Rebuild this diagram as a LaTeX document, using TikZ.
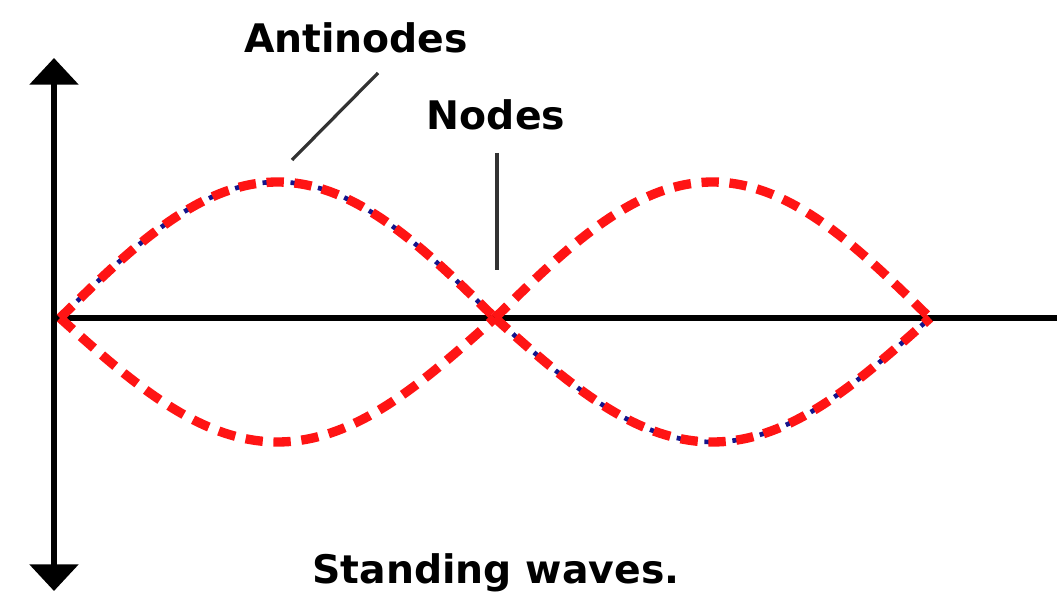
\documentclass[tikz,border=0pt]{standalone}
\usepackage{fontspec}
\setmainfont{DejaVu Sans}
\usetikzlibrary{arrows.meta}
\begin{document}
\begin{tikzpicture}[x=0.75pt,y=-0.75pt,
  axisline/.style={draw=black,line width=4.5pt},
  envelope/.style={draw={rgb,255:red,255;green,20;blue,20},line width=7pt,dash pattern=on 13pt off 8pt},
  underwave/.style={draw={rgb,255:red,20;green,20;blue,140},line width=3.5pt,dash pattern=on 6pt off 15pt,dash phase=3pt},
  pointer/.style={draw={rgb,255:red,50;green,50;blue,50},line width=2.4pt},
  label/.style={font=\bfseries\fontsize{29.5}{34}\selectfont,inner sep=0pt,anchor=base}]
\useasboundingbox (0,0) rectangle (1057,595);
% axes
\coordinate (vtop) at (54,58);
\coordinate (vbot) at (54,591);
\coordinate (hleft) at (54,318);
\coordinate (hright) at (1057,318);
\draw[axisline,{Triangle[length=20pt,width=36pt]}-{Triangle[length=20pt,width=36pt]}] (vtop) -- (vbot);
\draw[axisline] (hleft) -- (hright);
% blue wave underneath (curve A)
\draw[underwave] plot[smooth,domain=60:495,samples=80] (\x,{318-136*sin((\x-60)/435*180)});
\draw[underwave] plot[smooth,domain=495:930,samples=80] (\x,{318+124*sin((\x-495)/435*180)});
% red dashed envelopes
\draw[envelope] plot[smooth,domain=60:495,samples=80] (\x,{318-136*sin((\x-60)/435*180)});
\draw[envelope] plot[smooth,domain=60:495,samples=80] (\x,{318+124*sin((\x-60)/435*180)});
\draw[envelope] plot[smooth,domain=495:930,samples=80] (\x,{318-136*sin((\x-495)/435*180)});
\draw[envelope] plot[smooth,domain=495:930,samples=80] (\x,{318+124*sin((\x-495)/435*180)});
% labels
\node[label] (anti) at (356,53) {Antinodes};
\node[label] (nodes) at (496,130) {Nodes};
\node[label] (title) at (496,583) {Standing waves.};
\coordinate (antistart) at (378,73);
\coordinate (antiend) at (292,160);
\coordinate (nodestart) at (497,153);
\coordinate (nodeend) at (497,270);
\draw[pointer] (antistart) -- (antiend);
\draw[pointer] (nodestart) -- (nodeend);
\end{tikzpicture}
\end{document}
